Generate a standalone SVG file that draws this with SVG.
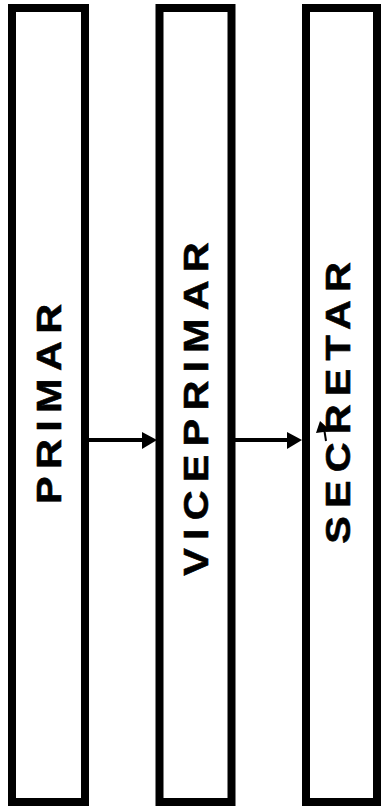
<svg xmlns="http://www.w3.org/2000/svg" width="381" height="808" viewBox="0 0 381 808">
<style>
.box{fill:#fff;stroke:#000;stroke-width:8}
.lbl{font-family:"Liberation Sans",Arial,sans-serif;font-weight:bold;font-size:36px;fill:#000;text-anchor:middle;stroke:#000;stroke-width:0.6}
.ln{stroke:#000;stroke-width:4;fill:none}
</style>
<rect width="381" height="808" fill="#fff"/>
<g id="node-primar">
<rect class="box" x="12" y="8" width="73" height="794"/>
<text class="lbl" transform="translate(61,404) rotate(-90) scale(1.15,1)" textLength="174" lengthAdjust="spacing">PRIMAR</text>
</g>
<g id="node-viceprimar">
<rect class="box" x="159.5" y="8" width="72" height="794"/>
<text class="lbl" transform="translate(208,409) rotate(-90) scale(1.15,1)" textLength="290" lengthAdjust="spacing">VICEPRIMAR</text>
</g>
<g id="node-secretar">
<rect class="box" x="306" y="8" width="71" height="794"/>
<text class="lbl" transform="translate(350,403) rotate(-90) scale(1.15,1)" textLength="245" lengthAdjust="spacing">SECRETAR</text>
</g>
<g id="connectors">
<line class="ln" x1="89" y1="440" x2="144" y2="440"/>
<polygon points="142,432 157,440 142,449"/>
<line class="ln" x1="235" y1="440" x2="289" y2="440"/>
<polygon points="287,432 302,440 287,449"/>
<line x1="326" y1="441" x2="324" y2="428" stroke="#000" stroke-width="2"/>
<polygon points="320,421 316,433 331,431"/>
</g>
</svg>
